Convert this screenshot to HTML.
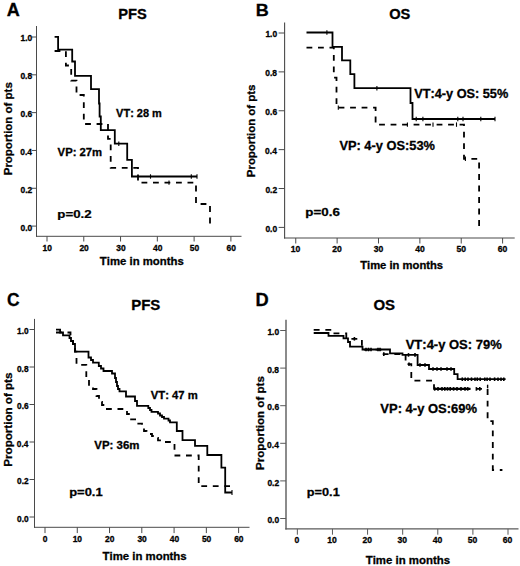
<!DOCTYPE html>
<html><head><meta charset="utf-8"><style>
html,body{margin:0;padding:0;background:#fff;}
svg{display:block;font-family:"Liberation Sans",sans-serif;font-kerning:none;}
</style></head><body>
<svg width="520" height="566" viewBox="0 0 520 566">
<rect width="520" height="566" fill="#fff"/>
<line x1="36.5" y1="26" x2="36.5" y2="236.8" stroke="#4a4a4a" stroke-width="1.0"/>
<line x1="36.0" y1="236.3" x2="241.5" y2="236.3" stroke="#4a4a4a" stroke-width="1.0"/>
<line x1="31.9" y1="226.1" x2="36.5" y2="226.1" stroke="#4a4a4a" stroke-width="1"/>
<line x1="31.9" y1="188.28" x2="36.5" y2="188.28" stroke="#4a4a4a" stroke-width="1"/>
<line x1="31.9" y1="150.46" x2="36.5" y2="150.46" stroke="#4a4a4a" stroke-width="1"/>
<line x1="31.9" y1="112.64" x2="36.5" y2="112.64" stroke="#4a4a4a" stroke-width="1"/>
<line x1="31.9" y1="74.82" x2="36.5" y2="74.82" stroke="#4a4a4a" stroke-width="1"/>
<line x1="31.9" y1="37.0" x2="36.5" y2="37.0" stroke="#4a4a4a" stroke-width="1"/>
<line x1="47.0" y1="236.3" x2="47.0" y2="241.5" stroke="#4a4a4a" stroke-width="1"/>
<line x1="83.78" y1="236.3" x2="83.78" y2="241.5" stroke="#4a4a4a" stroke-width="1"/>
<line x1="120.56" y1="236.3" x2="120.56" y2="241.5" stroke="#4a4a4a" stroke-width="1"/>
<line x1="157.34" y1="236.3" x2="157.34" y2="241.5" stroke="#4a4a4a" stroke-width="1"/>
<line x1="194.12" y1="236.3" x2="194.12" y2="241.5" stroke="#4a4a4a" stroke-width="1"/>
<line x1="230.9" y1="236.3" x2="230.9" y2="241.5" stroke="#4a4a4a" stroke-width="1"/>
<line x1="284.6" y1="22.6" x2="284.6" y2="238.55" stroke="#4a4a4a" stroke-width="1.1"/>
<line x1="284.05" y1="238.0" x2="514.7" y2="238.0" stroke="#4a4a4a" stroke-width="1.1"/>
<line x1="278.6" y1="227.4" x2="284.6" y2="227.4" stroke="#4a4a4a" stroke-width="1"/>
<line x1="278.6" y1="188.52" x2="284.6" y2="188.52" stroke="#4a4a4a" stroke-width="1"/>
<line x1="278.6" y1="149.64" x2="284.6" y2="149.64" stroke="#4a4a4a" stroke-width="1"/>
<line x1="278.6" y1="110.76" x2="284.6" y2="110.76" stroke="#4a4a4a" stroke-width="1"/>
<line x1="278.6" y1="71.88" x2="284.6" y2="71.88" stroke="#4a4a4a" stroke-width="1"/>
<line x1="278.6" y1="33.0" x2="284.6" y2="33.0" stroke="#4a4a4a" stroke-width="1"/>
<line x1="295.75" y1="238.0" x2="295.75" y2="243.5" stroke="#4a4a4a" stroke-width="1"/>
<line x1="337.12" y1="238.0" x2="337.12" y2="243.5" stroke="#4a4a4a" stroke-width="1"/>
<line x1="378.49" y1="238.0" x2="378.49" y2="243.5" stroke="#4a4a4a" stroke-width="1"/>
<line x1="419.86" y1="238.0" x2="419.86" y2="243.5" stroke="#4a4a4a" stroke-width="1"/>
<line x1="461.23" y1="238.0" x2="461.23" y2="243.5" stroke="#4a4a4a" stroke-width="1"/>
<line x1="502.6" y1="238.0" x2="502.6" y2="243.5" stroke="#4a4a4a" stroke-width="1"/>
<line x1="34.5" y1="318.9" x2="34.5" y2="527.8" stroke="#4a4a4a" stroke-width="1.0"/>
<line x1="34.0" y1="527.3" x2="249.5" y2="527.3" stroke="#4a4a4a" stroke-width="1.0"/>
<line x1="29.5" y1="517.0" x2="34.5" y2="517.0" stroke="#4a4a4a" stroke-width="1"/>
<line x1="29.5" y1="479.5" x2="34.5" y2="479.5" stroke="#4a4a4a" stroke-width="1"/>
<line x1="29.5" y1="442.0" x2="34.5" y2="442.0" stroke="#4a4a4a" stroke-width="1"/>
<line x1="29.5" y1="404.5" x2="34.5" y2="404.5" stroke="#4a4a4a" stroke-width="1"/>
<line x1="29.5" y1="367.0" x2="34.5" y2="367.0" stroke="#4a4a4a" stroke-width="1"/>
<line x1="29.5" y1="329.5" x2="34.5" y2="329.5" stroke="#4a4a4a" stroke-width="1"/>
<line x1="45.0" y1="527.3" x2="45.0" y2="533.1" stroke="#4a4a4a" stroke-width="1"/>
<line x1="77.27" y1="527.3" x2="77.27" y2="533.1" stroke="#4a4a4a" stroke-width="1"/>
<line x1="109.54" y1="527.3" x2="109.54" y2="533.1" stroke="#4a4a4a" stroke-width="1"/>
<line x1="141.81" y1="527.3" x2="141.81" y2="533.1" stroke="#4a4a4a" stroke-width="1"/>
<line x1="174.08" y1="527.3" x2="174.08" y2="533.1" stroke="#4a4a4a" stroke-width="1"/>
<line x1="206.35" y1="527.3" x2="206.35" y2="533.1" stroke="#4a4a4a" stroke-width="1"/>
<line x1="238.62" y1="527.3" x2="238.62" y2="533.1" stroke="#4a4a4a" stroke-width="1"/>
<line x1="286.0" y1="319.7" x2="286.0" y2="529.6" stroke="#5a5a5a" stroke-width="1.4"/>
<line x1="285.3" y1="528.9" x2="518.5" y2="528.9" stroke="#5a5a5a" stroke-width="1.4"/>
<line x1="280.2" y1="518.5" x2="286.0" y2="518.5" stroke="#5a5a5a" stroke-width="1"/>
<line x1="280.2" y1="480.9" x2="286.0" y2="480.9" stroke="#5a5a5a" stroke-width="1"/>
<line x1="280.2" y1="443.3" x2="286.0" y2="443.3" stroke="#5a5a5a" stroke-width="1"/>
<line x1="280.2" y1="405.7" x2="286.0" y2="405.7" stroke="#5a5a5a" stroke-width="1"/>
<line x1="280.2" y1="368.1" x2="286.0" y2="368.1" stroke="#5a5a5a" stroke-width="1"/>
<line x1="280.2" y1="330.5" x2="286.0" y2="330.5" stroke="#5a5a5a" stroke-width="1"/>
<line x1="297.35" y1="528.9" x2="297.35" y2="534.7" stroke="#5a5a5a" stroke-width="1"/>
<line x1="332.46" y1="528.9" x2="332.46" y2="534.7" stroke="#5a5a5a" stroke-width="1"/>
<line x1="367.57" y1="528.9" x2="367.57" y2="534.7" stroke="#5a5a5a" stroke-width="1"/>
<line x1="402.68" y1="528.9" x2="402.68" y2="534.7" stroke="#5a5a5a" stroke-width="1"/>
<line x1="437.79" y1="528.9" x2="437.79" y2="534.7" stroke="#5a5a5a" stroke-width="1"/>
<line x1="472.9" y1="528.9" x2="472.9" y2="534.7" stroke="#5a5a5a" stroke-width="1"/>
<line x1="508.01" y1="528.9" x2="508.01" y2="534.7" stroke="#5a5a5a" stroke-width="1"/>
<text transform="translate(20.50,230.50) scale(1.0001,1)" font-size="8.45" font-weight="bold" fill="#000" stroke="#000" stroke-width="0.300">0.0</text>
<text transform="translate(20.49,192.68) scale(1.0001,1)" font-size="8.45" font-weight="bold" fill="#000" stroke="#000" stroke-width="0.300">0.2</text>
<text transform="translate(20.20,154.86) scale(1.0001,1)" font-size="8.45" font-weight="bold" fill="#000" stroke="#000" stroke-width="0.300">0.4</text>
<text transform="translate(20.46,117.04) scale(1.0001,1)" font-size="8.45" font-weight="bold" fill="#000" stroke="#000" stroke-width="0.300">0.6</text>
<text transform="translate(20.41,79.22) scale(1.0001,1)" font-size="8.45" font-weight="bold" fill="#000" stroke="#000" stroke-width="0.300">0.8</text>
<text transform="translate(20.50,41.40) scale(1.0001,1)" font-size="8.45" font-weight="bold" fill="#000" stroke="#000" stroke-width="0.300">1.0</text>
<text transform="translate(265.40,231.70) scale(1.0001,1)" font-size="8.45" font-weight="bold" fill="#000" stroke="#000" stroke-width="0.300">0.0</text>
<text transform="translate(265.39,192.82) scale(1.0001,1)" font-size="8.45" font-weight="bold" fill="#000" stroke="#000" stroke-width="0.300">0.2</text>
<text transform="translate(265.10,153.94) scale(1.0001,1)" font-size="8.45" font-weight="bold" fill="#000" stroke="#000" stroke-width="0.300">0.4</text>
<text transform="translate(265.36,115.06) scale(1.0001,1)" font-size="8.45" font-weight="bold" fill="#000" stroke="#000" stroke-width="0.300">0.6</text>
<text transform="translate(265.31,76.18) scale(1.0001,1)" font-size="8.45" font-weight="bold" fill="#000" stroke="#000" stroke-width="0.300">0.8</text>
<text transform="translate(265.40,37.30) scale(1.0001,1)" font-size="8.45" font-weight="bold" fill="#000" stroke="#000" stroke-width="0.300">1.0</text>
<text transform="translate(17.09,521.70) scale(1.0001,1)" font-size="8.31" font-weight="bold" fill="#000" stroke="#000" stroke-width="0.300">0.0</text>
<text transform="translate(17.08,484.20) scale(1.0001,1)" font-size="8.31" font-weight="bold" fill="#000" stroke="#000" stroke-width="0.300">0.2</text>
<text transform="translate(16.80,446.70) scale(1.0001,1)" font-size="8.31" font-weight="bold" fill="#000" stroke="#000" stroke-width="0.300">0.4</text>
<text transform="translate(17.05,409.20) scale(1.0001,1)" font-size="8.31" font-weight="bold" fill="#000" stroke="#000" stroke-width="0.300">0.6</text>
<text transform="translate(17.01,371.70) scale(1.0001,1)" font-size="8.31" font-weight="bold" fill="#000" stroke="#000" stroke-width="0.300">0.8</text>
<text transform="translate(17.09,334.20) scale(1.0001,1)" font-size="8.31" font-weight="bold" fill="#000" stroke="#000" stroke-width="0.300">1.0</text>
<text transform="translate(267.40,523.10) scale(1.0001,1)" font-size="8.45" font-weight="bold" fill="#000" stroke="#000" stroke-width="0.300">0.0</text>
<text transform="translate(267.39,485.50) scale(1.0001,1)" font-size="8.45" font-weight="bold" fill="#000" stroke="#000" stroke-width="0.300">0.2</text>
<text transform="translate(267.10,447.90) scale(1.0001,1)" font-size="8.45" font-weight="bold" fill="#000" stroke="#000" stroke-width="0.300">0.4</text>
<text transform="translate(267.36,410.30) scale(1.0001,1)" font-size="8.45" font-weight="bold" fill="#000" stroke="#000" stroke-width="0.300">0.6</text>
<text transform="translate(267.31,372.70) scale(1.0001,1)" font-size="8.45" font-weight="bold" fill="#000" stroke="#000" stroke-width="0.300">0.8</text>
<text transform="translate(267.40,335.10) scale(1.0001,1)" font-size="8.45" font-weight="bold" fill="#000" stroke="#000" stroke-width="0.300">1.0</text>
<text transform="translate(42.51,251.10) scale(1.0001,1)" font-size="8.45" font-weight="bold" fill="#000" stroke="#000" stroke-width="0.300">10</text>
<text transform="translate(79.41,251.10) scale(1.0001,1)" font-size="8.45" font-weight="bold" fill="#000" stroke="#000" stroke-width="0.300">20</text>
<text transform="translate(116.24,251.10) scale(1.0001,1)" font-size="8.45" font-weight="bold" fill="#000" stroke="#000" stroke-width="0.300">30</text>
<text transform="translate(153.05,251.10) scale(1.0001,1)" font-size="8.45" font-weight="bold" fill="#000" stroke="#000" stroke-width="0.300">40</text>
<text transform="translate(189.76,251.10) scale(1.0001,1)" font-size="8.45" font-weight="bold" fill="#000" stroke="#000" stroke-width="0.300">50</text>
<text transform="translate(226.52,251.10) scale(1.0001,1)" font-size="8.45" font-weight="bold" fill="#000" stroke="#000" stroke-width="0.300">60</text>
<text transform="translate(290.83,252.40) scale(1.0001,1)" font-size="8.59" font-weight="bold" fill="#000" stroke="#000" stroke-width="0.300">10</text>
<text transform="translate(332.32,252.40) scale(1.0001,1)" font-size="8.59" font-weight="bold" fill="#000" stroke="#000" stroke-width="0.300">20</text>
<text transform="translate(373.74,252.40) scale(1.0001,1)" font-size="8.59" font-weight="bold" fill="#000" stroke="#000" stroke-width="0.300">30</text>
<text transform="translate(415.14,252.40) scale(1.0001,1)" font-size="8.59" font-weight="bold" fill="#000" stroke="#000" stroke-width="0.300">40</text>
<text transform="translate(456.44,252.40) scale(1.0001,1)" font-size="8.59" font-weight="bold" fill="#000" stroke="#000" stroke-width="0.300">50</text>
<text transform="translate(497.79,252.40) scale(1.0001,1)" font-size="8.59" font-weight="bold" fill="#000" stroke="#000" stroke-width="0.300">60</text>
<text transform="translate(42.86,542.40) scale(1.0001,1)" font-size="8.45" font-weight="bold" fill="#000" stroke="#000" stroke-width="0.300">0</text>
<text transform="translate(72.68,542.40) scale(1.0001,1)" font-size="8.45" font-weight="bold" fill="#000" stroke="#000" stroke-width="0.300">10</text>
<text transform="translate(105.07,542.40) scale(1.0001,1)" font-size="8.45" font-weight="bold" fill="#000" stroke="#000" stroke-width="0.300">20</text>
<text transform="translate(137.39,542.40) scale(1.0001,1)" font-size="8.45" font-weight="bold" fill="#000" stroke="#000" stroke-width="0.300">30</text>
<text transform="translate(169.69,542.40) scale(1.0001,1)" font-size="8.45" font-weight="bold" fill="#000" stroke="#000" stroke-width="0.300">40</text>
<text transform="translate(201.89,542.40) scale(1.0001,1)" font-size="8.45" font-weight="bold" fill="#000" stroke="#000" stroke-width="0.300">50</text>
<text transform="translate(234.14,542.40) scale(1.0001,1)" font-size="8.45" font-weight="bold" fill="#000" stroke="#000" stroke-width="0.300">60</text>
<text transform="translate(294.57,543.40) scale(1.0001,1)" font-size="8.59" font-weight="bold" fill="#000" stroke="#000" stroke-width="0.300">0</text>
<text transform="translate(327.19,543.40) scale(1.0001,1)" font-size="8.59" font-weight="bold" fill="#000" stroke="#000" stroke-width="0.300">10</text>
<text transform="translate(362.42,543.40) scale(1.0001,1)" font-size="8.59" font-weight="bold" fill="#000" stroke="#000" stroke-width="0.300">20</text>
<text transform="translate(397.58,543.40) scale(1.0001,1)" font-size="8.59" font-weight="bold" fill="#000" stroke="#000" stroke-width="0.300">30</text>
<text transform="translate(432.72,543.40) scale(1.0001,1)" font-size="8.59" font-weight="bold" fill="#000" stroke="#000" stroke-width="0.300">40</text>
<text transform="translate(467.76,543.40) scale(1.0001,1)" font-size="8.59" font-weight="bold" fill="#000" stroke="#000" stroke-width="0.300">50</text>
<text transform="translate(502.85,543.40) scale(1.0001,1)" font-size="8.59" font-weight="bold" fill="#000" stroke="#000" stroke-width="0.300">60</text>
<text transform="translate(99.87,264.50) scale(1.0033,1)" font-size="11.32" font-weight="bold" fill="#000" stroke="#000" stroke-width="0.299">Time in months</text>
<text transform="translate(360.17,268.80) scale(1.0173,1)" font-size="11.04" font-weight="bold" fill="#000" stroke="#000" stroke-width="0.295">Time in months</text>
<text transform="translate(102.57,559.60) scale(1.0321,1)" font-size="11.04" font-weight="bold" fill="#000" stroke="#000" stroke-width="0.291">Time in months</text>
<text transform="translate(365.67,563.50) scale(1.0218,1)" font-size="11.18" font-weight="bold" fill="#000" stroke="#000" stroke-width="0.294">Time in months</text>
<text transform="translate(11.90,175.27) rotate(-90) scale(1.0535,1)" font-size="10.90" font-weight="bold" stroke="#000" stroke-width="0.285">Proportion of pts</text>
<text transform="translate(255.40,177.16) rotate(-90) scale(1.0217,1)" font-size="11.19" font-weight="bold" stroke="#000" stroke-width="0.294">Proportion of pts</text>
<text transform="translate(12.30,466.68) rotate(-90) scale(1.0661,1)" font-size="10.90" font-weight="bold" stroke="#000" stroke-width="0.281">Proportion of pts</text>
<text transform="translate(263.70,469.97) rotate(-90) scale(1.0906,1)" font-size="10.61" font-weight="bold" stroke="#000" stroke-width="0.275">Proportion of pts</text>
<text transform="translate(6.75,15.70) scale(1.0255,1)" font-size="17.59" font-weight="bold" fill="#000" stroke="#000" stroke-width="0.293">A</text>
<text transform="translate(255.69,15.80) scale(1.0516,1)" font-size="17.15" font-weight="bold" fill="#000" stroke="#000" stroke-width="0.285">B</text>
<text transform="translate(6.98,306.00) scale(0.9586,1)" font-size="18.19" font-weight="bold" fill="#000" stroke="#000" stroke-width="0.313">C</text>
<text transform="translate(255.58,306.20) scale(1.0384,1)" font-size="17.59" font-weight="bold" fill="#000" stroke="#000" stroke-width="0.289">D</text>
<text transform="translate(118.22,19.20) scale(0.9582,1)" font-size="15.32" font-weight="bold" fill="#000" stroke="#000" stroke-width="0.313">PFS</text>
<text transform="translate(389.20,18.50) scale(0.9563,1)" font-size="15.32" font-weight="bold" fill="#000" stroke="#000" stroke-width="0.314">OS</text>
<text transform="translate(131.20,309.60) scale(1.0077,1)" font-size="14.89" font-weight="bold" fill="#000" stroke="#000" stroke-width="0.298">PFS</text>
<text transform="translate(373.38,309.80) scale(1.0488,1)" font-size="14.32" font-weight="bold" fill="#000" stroke="#000" stroke-width="0.286">OS</text>
<text transform="translate(116.12,116.50) scale(1.0500,1)" font-size="10.45" font-weight="bold" fill="#000" stroke="#000" stroke-width="0.286">VT: 28 m</text>
<text transform="translate(57.62,155.70) scale(1.0955,1)" font-size="10.31" font-weight="bold" fill="#000" stroke="#000" stroke-width="0.274">VP: 27m</text>
<text transform="translate(57.32,217.90) scale(1.2071,1)" font-size="11.03" font-weight="bold" fill="#000" stroke="#000" stroke-width="0.249">p=0.2</text>
<text transform="translate(414.21,98.20) scale(1.0586,1)" font-size="12.03" font-weight="bold" fill="#000" stroke="#000" stroke-width="0.283">VT:4-y OS: 55%</text>
<text transform="translate(339.41,150.10) scale(1.0548,1)" font-size="12.17" font-weight="bold" fill="#000" stroke="#000" stroke-width="0.284">VP: 4-y OS:53%</text>
<text transform="translate(305.32,216.30) scale(1.1671,1)" font-size="11.46" font-weight="bold" fill="#000" stroke="#000" stroke-width="0.257">p=0.6</text>
<text transform="translate(150.72,398.90) scale(0.9858,1)" font-size="11.48" font-weight="bold" fill="#000" stroke="#000" stroke-width="0.304">VT: 47 m</text>
<text transform="translate(94.32,449.10) scale(0.9871,1)" font-size="11.60" font-weight="bold" fill="#000" stroke="#000" stroke-width="0.304">VP: 36m</text>
<text transform="translate(69.15,495.60) scale(1.1177,1)" font-size="11.60" font-weight="bold" fill="#000" stroke="#000" stroke-width="0.268">p=0.1</text>
<text transform="translate(405.71,349.30) scale(1.0684,1)" font-size="12.17" font-weight="bold" fill="#000" stroke="#000" stroke-width="0.281">VT:4-y OS: 79%</text>
<text transform="translate(380.31,413.10) scale(1.0327,1)" font-size="12.60" font-weight="bold" fill="#000" stroke="#000" stroke-width="0.290">VP: 4-y OS:69%</text>
<text transform="translate(306.86,496.20) scale(1.0969,1)" font-size="11.60" font-weight="bold" fill="#000" stroke="#000" stroke-width="0.273">p=0.1</text>
<path d="M54.6,36.8 H58.1 V49.6 H72.2 V61.5 H75 V75.8 H91 V89.2 H99 V103.5 H99.6 V116.5 H100.8 V130.2 H114.8 V143.7 H127.2 V159.8 H131.9 V176.5 H197" fill="none" stroke="#000" stroke-width="1.8" stroke-linejoin="miter" stroke-linecap="butt"/>
<path d="M54.6,51 H65.9 V65.5 H71.2 V80.6 H76.5 V95 H83.8 V124 H108 V138.8 H110.7 V167.8 H138 V182.6 H196 V204 H210 V226" fill="none" stroke="#000" stroke-width="1.8" stroke-dasharray="5.8 5.7" stroke-dashoffset="0" stroke-linejoin="miter" stroke-linecap="butt"/>
<line x1="118.8" y1="141.50" x2="118.8" y2="145.90" stroke="#000" stroke-width="1.1"/>
<line x1="150.5" y1="174.30" x2="150.5" y2="178.70" stroke="#000" stroke-width="1.1"/>
<line x1="191.3" y1="174.30" x2="191.3" y2="178.70" stroke="#000" stroke-width="1.1"/>
<line x1="197" y1="174.30" x2="197" y2="178.70" stroke="#000" stroke-width="1.1"/>
<line x1="169" y1="180.40" x2="169" y2="184.80" stroke="#000" stroke-width="1.1"/>
<path d="M306.5,32.5 H332.5 V46.8 H342 V60.4 H350.3 V74.2 H354.4 V88.2 H410.5 V103 H412.5 V119 H495" fill="none" stroke="#000" stroke-width="1.8" stroke-linejoin="miter" stroke-linecap="butt"/>
<path d="M306.5,47.7 H333.8 V77.6 H336.5 V107.6 H375.6 V124.6 H464 V158.8 H479.1 V227" fill="none" stroke="#000" stroke-width="1.8" stroke-dasharray="5.8 5.7" stroke-dashoffset="0" stroke-linejoin="miter" stroke-linecap="butt"/>
<line x1="326.9" y1="30.30" x2="326.9" y2="34.70" stroke="#000" stroke-width="1.1"/>
<line x1="376.9" y1="86.00" x2="376.9" y2="90.40" stroke="#000" stroke-width="1.1"/>
<line x1="416.2" y1="116.80" x2="416.2" y2="121.20" stroke="#000" stroke-width="1.1"/>
<line x1="422.9" y1="116.80" x2="422.9" y2="121.20" stroke="#000" stroke-width="1.1"/>
<line x1="457.8" y1="116.80" x2="457.8" y2="121.20" stroke="#000" stroke-width="1.1"/>
<line x1="463" y1="116.80" x2="463" y2="121.20" stroke="#000" stroke-width="1.1"/>
<line x1="480.8" y1="116.80" x2="480.8" y2="121.20" stroke="#000" stroke-width="1.1"/>
<line x1="495" y1="116.80" x2="495" y2="121.20" stroke="#000" stroke-width="1.1"/>
<line x1="338.3" y1="105.40" x2="338.3" y2="109.80" stroke="#000" stroke-width="1.1"/>
<line x1="407.4" y1="122.40" x2="407.4" y2="126.80" stroke="#000" stroke-width="1.1"/>
<line x1="433" y1="122.40" x2="433" y2="126.80" stroke="#000" stroke-width="1.1"/>
<line x1="456.5" y1="122.40" x2="456.5" y2="126.80" stroke="#000" stroke-width="1.1"/>
<line x1="465.4" y1="156.60" x2="465.4" y2="161.00" stroke="#000" stroke-width="1.1"/>
<path d="M56,329.6 H60.1 V332.5 H63 V335.3 H69.5 V338 H71 V341 H73 V344 H75 V351.7 H88.5 V357.5 H91 V360 H93 V362.7 H98.8 V366 H101 V368.5 H103.5 V371 H112 V373.5 H115 V378 H116 V382 H117 V386 H118 V389 H119.5 V391.3 H126 V396.5 H135 V401 H137 V405.8 H148.3 V408 H150 V410 H151.5 V411.8 H158 V413.5 H160 V415.5 H162 V417 H164 V418.7 H168.5 V420.5 H170 V422.3 H176.8 V431 H182.5 V440.2 H195 V445.8 H207.3 V455 H221.4 V467.7 H225.2 V492.5 H232" fill="none" stroke="#000" stroke-width="1.8" stroke-linejoin="miter" stroke-linecap="butt"/>
<path d="M56,332.5 H70.5 V341 H73 V344 H75 V351.7 H76.5 V364.8 H86.3 V380 H89 V386 H93 V389 H96.5 V396 H99 V402 H102 V405 H106 V409 H124 V411 H127 V414 H130 V419.3 H136.5 V423.6 H142 V427 H144 V431 H146.5 V434 H152 V436 H155 V438 H158 V440.4 H163 V442 H174.5 V455.5 H198.7 V486.2 H230" fill="none" stroke="#000" stroke-width="1.8" stroke-dasharray="5.8 5.7" stroke-dashoffset="0" stroke-linejoin="miter" stroke-linecap="butt"/>
<line x1="232" y1="490.00" x2="232" y2="495.00" stroke="#000" stroke-width="1.1"/>
<path d="M313.7,333 H328.5 V335.8 H343.5 V338.3 H348 V342 H350 V346.7 H362.5 V349.5 H390 V353.3 H402.5 V354.9 H417.6 V365 H429 V369 H454.2 V374.2 H457.6 V379.2 H505.6" fill="none" stroke="#000" stroke-width="1.8" stroke-linejoin="miter" stroke-linecap="butt"/>
<path d="M313.7,329.9 H333 V333.4 H346.3 V338.8 H361.9 V349.6 H382 V354.1 H405.6 V364.2 H411.3 V380.6 H434 V388.9 H487.6 V421.2 H492.8 V470 H502.4" fill="none" stroke="#000" stroke-width="1.8" stroke-dasharray="5.9 5.75" stroke-dashoffset="0" stroke-linejoin="miter" stroke-linecap="butt"/>
<line x1="366" y1="347.70" x2="366" y2="351.30" stroke="#000" stroke-width="1.6"/>
<line x1="368.5" y1="347.70" x2="368.5" y2="351.30" stroke="#000" stroke-width="1.6"/>
<line x1="371" y1="347.70" x2="371" y2="351.30" stroke="#000" stroke-width="1.6"/>
<line x1="378" y1="347.70" x2="378" y2="351.30" stroke="#000" stroke-width="1.6"/>
<line x1="380" y1="347.70" x2="380" y2="351.30" stroke="#000" stroke-width="1.6"/>
<line x1="408.5" y1="353.10" x2="408.5" y2="356.70" stroke="#000" stroke-width="1.6"/>
<line x1="415" y1="353.10" x2="415" y2="356.70" stroke="#000" stroke-width="1.6"/>
<line x1="420" y1="363.20" x2="420" y2="366.80" stroke="#000" stroke-width="1.6"/>
<line x1="425" y1="363.20" x2="425" y2="366.80" stroke="#000" stroke-width="1.6"/>
<line x1="433" y1="367.20" x2="433" y2="370.80" stroke="#000" stroke-width="1.6"/>
<line x1="437" y1="367.20" x2="437" y2="370.80" stroke="#000" stroke-width="1.6"/>
<line x1="441" y1="367.20" x2="441" y2="370.80" stroke="#000" stroke-width="1.6"/>
<line x1="447" y1="367.20" x2="447" y2="370.80" stroke="#000" stroke-width="1.6"/>
<line x1="451" y1="367.20" x2="451" y2="370.80" stroke="#000" stroke-width="1.6"/>
<line x1="462.3" y1="377.40" x2="462.3" y2="381.00" stroke="#000" stroke-width="1.6"/>
<line x1="465.2" y1="377.40" x2="465.2" y2="381.00" stroke="#000" stroke-width="1.6"/>
<line x1="468" y1="377.40" x2="468" y2="381.00" stroke="#000" stroke-width="1.6"/>
<line x1="471.5" y1="377.40" x2="471.5" y2="381.00" stroke="#000" stroke-width="1.6"/>
<line x1="475" y1="377.40" x2="475" y2="381.00" stroke="#000" stroke-width="1.6"/>
<line x1="477.3" y1="377.40" x2="477.3" y2="381.00" stroke="#000" stroke-width="1.6"/>
<line x1="480.2" y1="377.40" x2="480.2" y2="381.00" stroke="#000" stroke-width="1.6"/>
<line x1="484.8" y1="377.40" x2="484.8" y2="381.00" stroke="#000" stroke-width="1.6"/>
<line x1="487.1" y1="377.40" x2="487.1" y2="381.00" stroke="#000" stroke-width="1.6"/>
<line x1="490" y1="377.40" x2="490" y2="381.00" stroke="#000" stroke-width="1.6"/>
<line x1="494.6" y1="377.40" x2="494.6" y2="381.00" stroke="#000" stroke-width="1.6"/>
<line x1="498" y1="377.40" x2="498" y2="381.00" stroke="#000" stroke-width="1.6"/>
<line x1="501" y1="377.40" x2="501" y2="381.00" stroke="#000" stroke-width="1.6"/>
<line x1="503.8" y1="377.40" x2="503.8" y2="381.00" stroke="#000" stroke-width="1.6"/>
<line x1="354.4" y1="337.00" x2="354.4" y2="340.60" stroke="#000" stroke-width="1.6"/>
<line x1="383.8" y1="352.30" x2="383.8" y2="355.90" stroke="#000" stroke-width="1.6"/>
<line x1="409" y1="362.40" x2="409" y2="366.00" stroke="#000" stroke-width="1.6"/>
<line x1="434.7" y1="387.10" x2="434.7" y2="390.70" stroke="#000" stroke-width="1.6"/>
<line x1="438" y1="387.10" x2="438" y2="390.70" stroke="#000" stroke-width="1.6"/>
<line x1="442" y1="387.10" x2="442" y2="390.70" stroke="#000" stroke-width="1.6"/>
<line x1="444.8" y1="387.10" x2="444.8" y2="390.70" stroke="#000" stroke-width="1.6"/>
<line x1="447.5" y1="387.10" x2="447.5" y2="390.70" stroke="#000" stroke-width="1.6"/>
<line x1="450.2" y1="387.10" x2="450.2" y2="390.70" stroke="#000" stroke-width="1.6"/>
<line x1="453.6" y1="387.10" x2="453.6" y2="390.70" stroke="#000" stroke-width="1.6"/>
<line x1="457" y1="387.10" x2="457" y2="390.70" stroke="#000" stroke-width="1.6"/>
<line x1="461" y1="387.10" x2="461" y2="390.70" stroke="#000" stroke-width="1.6"/>
<line x1="465" y1="387.10" x2="465" y2="390.70" stroke="#000" stroke-width="1.6"/>
<line x1="467.7" y1="387.10" x2="467.7" y2="390.70" stroke="#000" stroke-width="1.6"/>
<line x1="476.4" y1="387.10" x2="476.4" y2="390.70" stroke="#000" stroke-width="1.6"/>
<line x1="479.8" y1="387.10" x2="479.8" y2="390.70" stroke="#000" stroke-width="1.6"/>
<path d="M434,388.9 H470.4" fill="none" stroke="#000" stroke-width="2.2" stroke-linejoin="miter" stroke-linecap="butt"/>
<line x1="487.6" y1="384.70" x2="487.6" y2="388.30" stroke="#000" stroke-width="1.4"/>
</svg>
</body></html>
